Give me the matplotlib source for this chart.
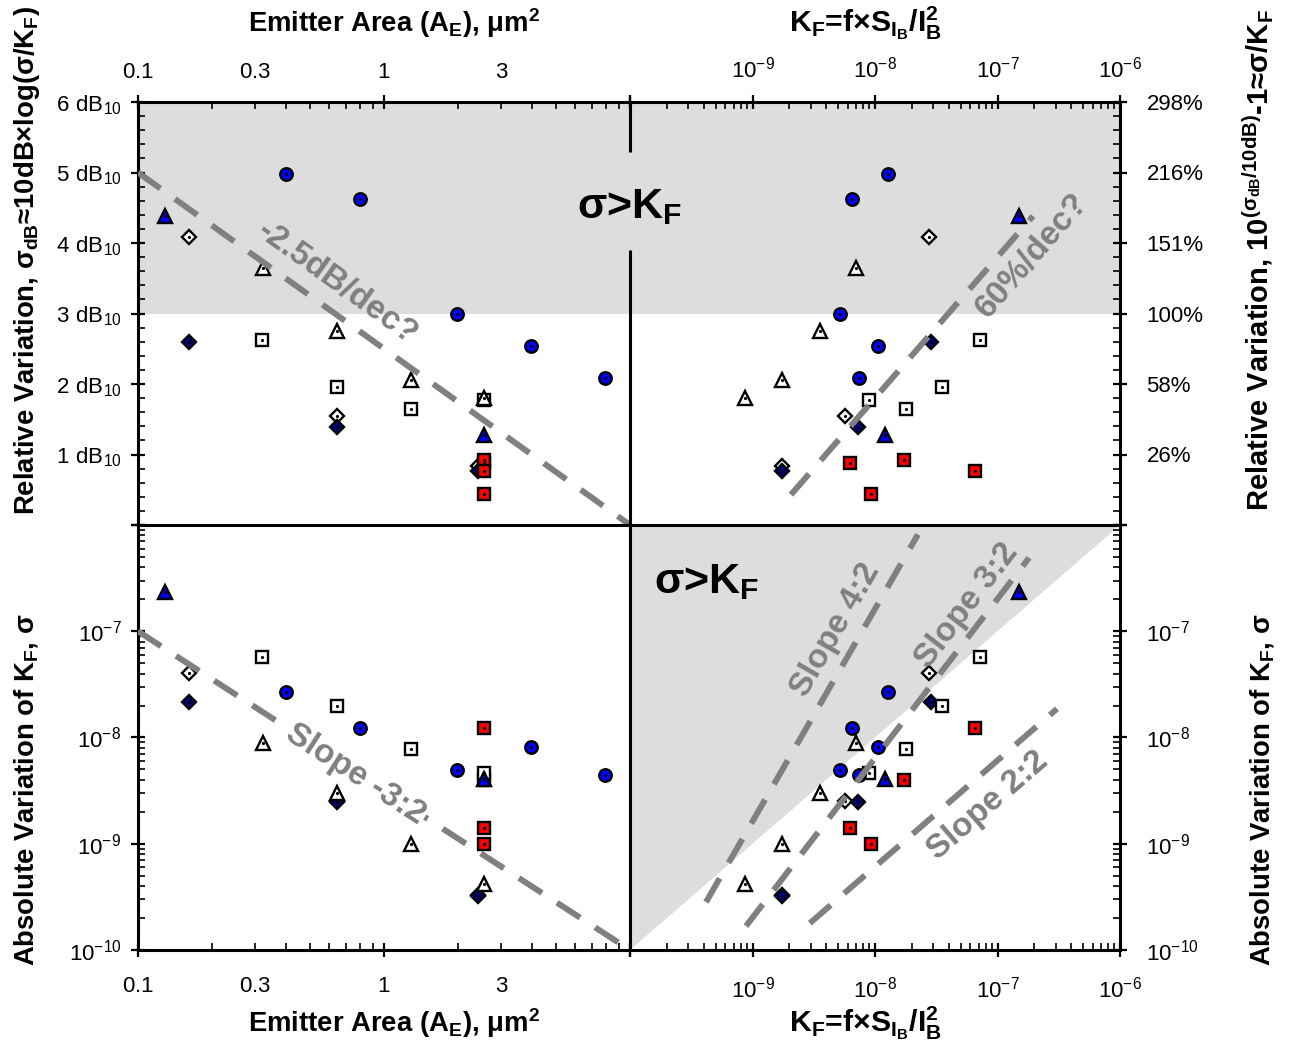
import numpy as np
import matplotlib
matplotlib.use("Agg")
import matplotlib.pyplot as plt
from matplotlib import font_manager
from matplotlib.lines import Line2D
from matplotlib.ticker import FixedLocator, FixedFormatter

# ---------------------------------------------------------------------------
# Device data: emitter area (um^2), K_F, absolute spread sigma, spread in dB
# ---------------------------------------------------------------------------
circ_area = [0.398, 0.798, 1.98, 3.96, 7.92]
circ_kf = [1.28e-8, 6.49e-9, 5.15e-9, 1.06e-8, 7.36e-9]
circ_db = [4.98, 4.63, 2.99, 2.54, 2.09]
circ_sig = [2.70e-8, 1.22e-8, 4.94e-9, 8.09e-9, 4.44e-9]

btri_area = [0.129, 2.56]
btri_kf = [1.50e-7, 1.21e-8]
btri_db = [4.38, 1.28]
btri_sig = [2.35e-7, 4.07e-9]

otri_area = [0.322, 0.644, 1.29, 2.56]
otri_kf = [7.00e-9, 3.53e-9, 1.73e-9, 8.69e-10]
otri_db = [3.64, 2.75, 2.06, 1.80]
otri_sig = [8.81e-9, 3.02e-9, 9.89e-10, 4.17e-10]

osq_area = [0.319, 0.644, 1.29, 2.56]
osq_kf = [7.19e-8, 3.52e-8, 1.78e-8, 8.93e-9]
osq_db = [2.62, 1.96, 1.64, 1.77]
osq_sig = [5.69e-8, 1.98e-8, 7.80e-9, 4.63e-9]

rsq_area = [2.56, 2.56, 2.56, 2.56]
rsq_kf = [6.28e-9, 1.71e-8, 6.55e-8, 9.23e-9]
rsq_db = [0.88, 0.92, 0.76, 0.44]
rsq_sig = [1.40e-9, 3.98e-9, 1.22e-8, 9.89e-10]

odia_area = [0.161, 0.644, 2.40]
odia_kf = [2.76e-8, 5.73e-9, 1.73e-9]
odia_db = [4.08, 1.54, 0.84]
odia_sig = [4.02e-8, 2.51e-9, 3.31e-10]

ddia_area = [0.161, 0.644, 2.40]
ddia_kf = [2.85e-8, 7.23e-9, 1.73e-9]
ddia_db = [2.59, 1.39, 0.76]
ddia_sig = [2.17e-8, 2.45e-9, 3.24e-10]

# guide lines (end points) and their slopes
area_line = [0.1, 10.0]
db_area_line = [5.0, 0.0]                 # -2.5 dB per decade
kf_db_line = [2.06e-9, 1.95e-7]
db_kf_start, db_kf_slope = 0.43, 2.0      # 2 dB per decade ~ 60 % per decade
sig_area_line = [1e-7, 1e-10]             # slope -3:2
kf42 = [4.17e-10, 2.24e-8]; sig42_start, slope42 = 2.82e-10, 2.0
kf32 = [8.85e-10, 1.81e-7]; sig32_start, slope32 = 1.68e-10, 1.5
kf22 = [2.94e-9, 3.06e-7]; sig22_start, slope22 = 1.79e-10, 1.0

# tick values
db_major = [0, 1, 2, 3, 4, 5, 6]
log_major = [1e-10, 1e-9, 1e-8, 1e-7, 1e-6]
area_major = [0.1, 1, 10]

# ---------------------------------------------------------------------------
W, H = 1289, 1047
plt.rcParams['font.family'] = ['Liberation Sans', 'DejaVu Sans']
plt.rcParams['mathtext.default'] = 'regular'

available = {f.name for f in font_manager.fontManager.ttflist}
if 'Liberation Sans Narrow' in available:
    TITLE_FONT, TITLE_SIZE = ['Liberation Sans Narrow', 'Liberation Sans', 'DejaVu Sans'], 23
else:
    TITLE_FONT, TITLE_SIZE = ['Liberation Sans', 'DejaVu Sans'], 19.8

GRAY_FILL = '#dddddd'
GUIDE = '#808080'
SPINE_W = 2.2
TICK_FS = 16
OUT_TICK = 5  # outward half of the major ticks, in points

fig = plt.figure(figsize=(W / 100, H / 100), dpi=100)


def box(x0, y0, x1, y1):
    return [x0 / W, 1 - y1 / H, (x1 - x0) / W, (y1 - y0) / H]


ax_tl = fig.add_axes(box(138, 102, 630, 525))
ax_tr = fig.add_axes(box(630, 102, 1120, 525))
ax_bl = fig.add_axes(box(138, 525, 630, 950))
ax_br = fig.add_axes(box(630, 525, 1120, 950))

for ax in (ax_tl, ax_bl):
    ax.set_xscale('log')
    ax.set_xlim(0.1, 10)
for ax in (ax_tr, ax_br):
    ax.set_xscale('log')
    ax.set_xlim(1e-10, 1e-6)
for ax in (ax_tl, ax_tr):
    ax.set_ylim(0, 6)
for ax in (ax_bl, ax_br):
    ax.set_yscale('log')
    ax.set_ylim(1e-10, 1e-6)

for ax in (ax_tl, ax_tr, ax_bl, ax_br):
    ax.set_facecolor('none')
    for s in ax.spines.values():
        s.set_linewidth(SPINE_W)
    ax.tick_params(which='major', direction='inout', length=2 * OUT_TICK, width=1.6,
                   labelsize=TICK_FS)
    ax.tick_params(which='minor', direction='in', length=5, width=1.2,
                   labelsize=TICK_FS)
    ax.tick_params(which='both', top=False, bottom=False, left=False, right=False,
                   labeltop=False, labelbottom=False, labelleft=False, labelright=False)

ax_tl.spines[['right', 'bottom']].set_visible(False)
ax_tr.spines[['left', 'bottom']].set_visible(False)
ax_bl.spines[['right', 'top']].set_visible(False)
ax_br.spines[['left', 'top']].set_visible(False)

# --- tick locations / labels ----------------------------------------------
area_minor = [m * 10.0 ** e for e in (-1, 0) for m in range(2, 10)]
area_minor_lab = ['$0.3$' if np.isclose(v, 0.3) else ('$3$' if np.isclose(v, 3) else '')
                  for v in area_minor]
area_major_lab = ['$0.1$', '$1$', '']
kf_minor = [m * 10.0 ** e for e in range(-10, -6) for m in range(2, 10)]
kf_major_lab = [''] + ['$10^{%d}$' % e for e in (-9, -8, -7, -6)]
sig_major_lab = ['$10^{%d}$' % e for e in (-10, -9, -8, -7)] + ['']
db_minor = [round(v, 1) for v in np.arange(0.2, 6.0, 0.2) if abs(v - round(v)) > 1e-6]
db_lab = [''] + ['$%d\\ dB_{10}$' % d for d in db_major[1:]]
pct_lab = [''] + ['%.0f%%' % ((10 ** (d / 10) - 1) * 100) for d in db_major[1:]]


def set_axis(axis, major, major_lab, minor, minor_lab=None):
    axis.set_major_locator(FixedLocator(major))
    axis.set_major_formatter(FixedFormatter(major_lab))
    axis.set_minor_locator(FixedLocator(minor))
    axis.set_minor_formatter(FixedFormatter(minor_lab if minor_lab else [''] * len(minor)))


for ax in (ax_tl, ax_bl):
    set_axis(ax.xaxis, area_major, area_major_lab, area_minor, area_minor_lab)
for ax in (ax_tr, ax_br):
    set_axis(ax.xaxis, log_major, kf_major_lab, kf_minor)
set_axis(ax_tl.yaxis, db_major, db_lab, db_minor)
set_axis(ax_tr.yaxis, db_major, pct_lab, db_minor)
for ax in (ax_bl, ax_br):
    set_axis(ax.yaxis, log_major, sig_major_lab, kf_minor)

ax_tl.tick_params(which='both', top=True, left=True, labeltop=True, labelleft=True)
ax_tr.tick_params(which='both', top=True, right=True, labeltop=True, labelright=True)
ax_bl.tick_params(which='both', bottom=True, left=True, labelbottom=True, labelleft=True)
ax_br.tick_params(which='both', bottom=True, right=True, labelbottom=True, labelright=True)


def pads(ax, axis, pad):
    # minor ticks point inward only, so their labels need the outward part added
    ax.tick_params(axis=axis, which='major', pad=pad)
    ax.tick_params(axis=axis, which='minor', pad=pad + OUT_TICK)


for ax in (ax_tl, ax_tr):
    pads(ax, 'x', 9)
for ax in (ax_bl, ax_br):
    pads(ax, 'x', 14)
for ax in (ax_tl, ax_bl):
    pads(ax, 'y', 7)
for ax in (ax_tr, ax_br):
    pads(ax, 'y', 14)

# --- shaded sigma > K_F regions -------------------------------------------
ax_tl.axhspan(3, 6, color=GRAY_FILL, lw=0, zorder=0)
ax_tr.axhspan(3, 6, color=GRAY_FILL, lw=0, zorder=0)
ax_br.fill([1e-10, 1e-6, 1e-10], [1e-10, 1e-6, 1e-6], color=GRAY_FILL, lw=0, zorder=0)

# --- markers -----------------------------------------------------------------
series = [
    (odia_area, odia_kf, odia_db, odia_sig, 'D', 'white', 7.6),
    (ddia_area, ddia_kf, ddia_db, ddia_sig, 'D', '#00007a', 7.6),
    (rsq_area, rsq_kf, rsq_db, rsq_sig, 's', '#ff0000', 8.5),
    (osq_area, osq_kf, osq_db, osq_sig, 's', 'white', 8.5),
    (otri_area, otri_kf, otri_db, otri_sig, '^', 'white', 9.5),
    (circ_area, circ_kf, circ_db, circ_sig, 'o', '#0000ff', 9.0),
    (btri_area, btri_kf, btri_db, btri_sig, '^', '#0000ff', 9.5),
]

z = 3.0
for area, kf, db, sig, mk, fc, ms in series:
    for ax, xs, ys in ((ax_tl, area, db), (ax_tr, kf, db),
                       (ax_bl, area, sig), (ax_br, kf, sig)):
        ax.plot(xs, ys, ls='none', marker=mk, ms=ms, mfc=fc, mec='black',
                mew=1.7, zorder=z, clip_on=False)
        ax.plot(xs, ys, ls='none', marker='o', ms=2.3, mfc='black', mew=0,
                zorder=z + 0.05, clip_on=False)
    z += 0.1

# --- guide lines -------------------------------------------------------------
dash_kw = dict(color=GUIDE, lw=4.3, dashes=(4.6, 3.0), dash_capstyle='butt',
               zorder=5, solid_capstyle='butt')

kf_db_line = np.array(kf_db_line)
db_kf_vals = db_kf_start + db_kf_slope * np.log10(kf_db_line / kf_db_line[0])
kf42 = np.array(kf42); sig42 = sig42_start * (kf42 / kf42[0]) ** slope42
kf32 = np.array(kf32); sig32 = sig32_start * (kf32 / kf32[0]) ** slope32
kf22 = np.array(kf22); sig22 = sig22_start * (kf22 / kf22[0]) ** slope22

ax_tl.plot(area_line, db_area_line, **dash_kw)
ax_tr.plot(kf_db_line, db_kf_vals, **dash_kw)
ax_bl.plot(area_line, sig_area_line, **dash_kw)
ax_br.plot(kf42, sig42, **dash_kw)
ax_br.plot(kf32, sig32, **dash_kw)
ax_br.plot(kf22, sig22, **dash_kw)


def angle_of(ax, xs, ys):
    p = ax.transData.transform(np.column_stack([xs, ys]))
    return np.degrees(np.arctan2(p[-1, 1] - p[0, 1], p[-1, 0] - p[0, 0]))


lab_kw = dict(color=GUIDE, fontsize=24, fontweight='bold', ha='center', va='center',
              rotation_mode='anchor', zorder=6)
ax_tl.text(0.648, 3.43, '-2.5dB/dec?', rotation=angle_of(ax_tl, area_line, db_area_line), **lab_kw)
ax_tr.text(10 ** -6.721, 3.82, '60%/dec?', rotation=angle_of(ax_tr, kf_db_line, db_kf_vals), **lab_kw)
# this label sits on its own line, so it masks the dashes underneath
ax_bl.text(0.766, 10 ** -8.344, 'Slope -3:2', rotation=angle_of(ax_bl, area_line, sig_area_line),
           bbox=dict(boxstyle='square,pad=0.05', fc='white', ec='none'), **lab_kw)
ax_br.text(10 ** -8.32, 10 ** -6.99, 'Slope 4:2', rotation=angle_of(ax_br, kf42, sig42), **lab_kw)
ax_br.text(10 ** -7.249, 10 ** -6.762, 'Slope 3:2', rotation=angle_of(ax_br, kf32, sig32), **lab_kw)
ax_br.text(10 ** -7.078, 10 ** -8.645, 'Slope 2:2', rotation=angle_of(ax_br, kf22, sig22), **lab_kw)

# --- region labels -------------------------------------------------------------
big_kw = dict(fontsize=31, fontweight='bold', ha='center', va='center', color='black')
fig.text(630 / W, 1 - 207 / H, 'σ>K$_F$', **big_kw)
ax_br.text((707 - 630) / 490, (950 - 582) / 425, 'σ>K$_F$', transform=ax_br.transAxes,
           zorder=6, **big_kw)

# --- dividing lines between the four panels -------------------------------
line_kw = dict(color='black', lw=SPINE_W, solid_capstyle='butt')
fig.add_artist(Line2D([138 / W, 1120 / W], [1 - 525 / H] * 2, **line_kw))
fig.add_artist(Line2D([630 / W] * 2, [1 - 102 / H, 1 - 152 / H], **line_kw))
fig.add_artist(Line2D([630 / W] * 2, [1 - 250 / H, 1 - 950 / H], **line_kw))

# --- axis titles -------------------------------------------------------------
t_kw = dict(family=TITLE_FONT, fontweight='bold', color='black')
area_title = 'Emitter Area (A$_E$), μm$^2$'
kf_title = 'K$_F$=f×S$_{I_B}$/I$_B^2$'
fig.text(394 / W, 1 - 32 / H, area_title, ha='center', va='baseline', fontsize=TITLE_SIZE, **t_kw)
fig.text(866 / W, 1 - 32 / H, kf_title, ha='center', va='baseline', fontsize=TITLE_SIZE * 1.1, **t_kw)
fig.text(394 / W, 1 - 1032 / H, area_title, ha='center', va='baseline', fontsize=TITLE_SIZE, **t_kw)
fig.text(866 / W, 1 - 1032 / H, kf_title, ha='center', va='baseline', fontsize=TITLE_SIZE * 1.1, **t_kw)

rel_left = 'Relative Variation, σ$_{dB}$≈10dB×log(σ/K$_F$)'
rel_right = 'Relative Variation, 10$^{(σ_{dB}/10dB)}$-1≈σ/K$_F$'
abs_lab = 'Absolute Variation of K$_F$, σ'
v_kw = dict(rotation=90, rotation_mode='anchor', ha='center', va='baseline', **t_kw)
fig.text(34 / W, 1 - 260 / H, rel_left, fontsize=TITLE_SIZE, **v_kw)
fig.text(34 / W, 1 - 790 / H, abs_lab, fontsize=TITLE_SIZE, **v_kw)
fig.text(1269 / W, 1 - 260 / H, rel_right, fontsize=TITLE_SIZE * 1.06, **v_kw)
fig.text(1269 / W, 1 - 790 / H, abs_lab, fontsize=TITLE_SIZE, **v_kw)

fig.savefig('out.png', dpi=100)
